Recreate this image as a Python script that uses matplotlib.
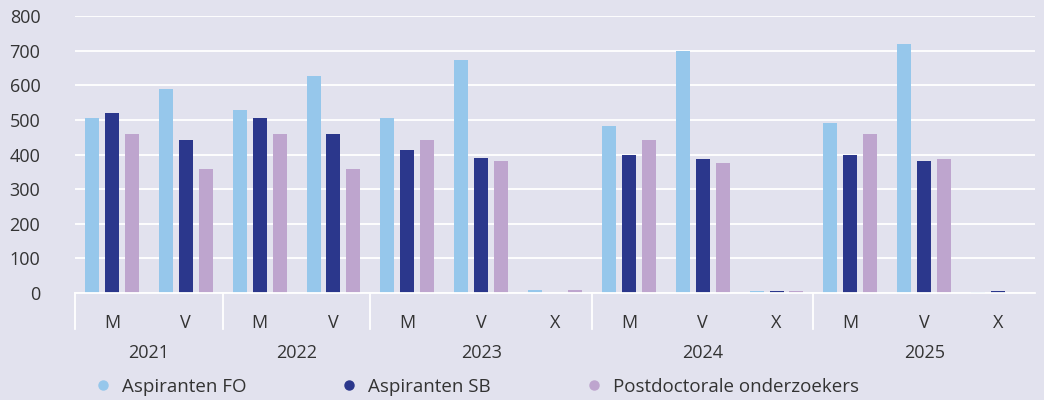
import matplotlib
matplotlib.use("Agg")
import matplotlib.pyplot as plt
from matplotlib.lines import Line2D
import numpy as np

years = ["2021", "2022", "2023", "2024", "2025"]
subcats = [["M", "V"], ["M", "V"], ["M", "V", "X"], ["M", "V", "X"], ["M", "V", "X"]]
series_names = ["Aspiranten FO", "Aspiranten SB", "Postdoctorale onderzoekers"]
aspiranten_fo = [505, 590, 528, 627, 505, 673, 10, 482, 699, 5, 491, 720, 3]
aspiranten_sb = [520, 442, 505, 460, 413, 390, 0, 399, 387, 5, 399, 381, 6]
postdocs = [460, 358, 460, 358, 442, 381, 10, 442, 375, 5, 459, 387, 1]
yticks = [0, 100, 200, 300, 400, 500, 600, 700, 800]

colors = ["#96C7EB", "#2B378C", "#BEA5CE"]
bg = "#E2E2EE"
txt = "#333333"

plt.rcParams["font.family"] = ["Open Sans", "DejaVu Sans"]

fig = plt.figure(figsize=(10.44, 4.0), dpi=100, facecolor=bg)
ax = fig.add_axes([75 / 1044, 107 / 400, 960 / 1044, 277 / 400], facecolor=bg)

labels = [s for grp in subcats for s in grp]
x = np.arange(len(labels))
width = 0.19
offset = 0.27
for i, (vals, c, name) in enumerate(zip([aspiranten_fo, aspiranten_sb, postdocs], colors, series_names)):
    ax.bar(x + (i - 1) * offset, vals, width=width, color=c, label=name, zorder=3)

ax.set_xlim(-0.5, len(labels) - 0.5)
ax.set_ylim(0, 800)
ax.set_yticks(yticks)
ax.yaxis.grid(True, color="white", linewidth=1.3, zorder=1)
ax.set_xticks(x)
ax.set_xticklabels(labels)
ax.tick_params(axis="x", length=0, pad=15, labelsize=13, labelcolor=txt)
ax.tick_params(axis="y", length=0, pad=25, labelsize=13, labelcolor=txt)
for lab in ax.get_yticklabels():
    lab.set_ha("right")
for sp in ["top", "right", "left"]:
    ax.spines[sp].set_visible(False)
ax.spines["bottom"].set_color("white")
ax.spines["bottom"].set_linewidth(1.3)
ax.spines["bottom"].set_zorder(4)

# group separators and year labels
trans = ax.get_xaxis_transform()
start = 0
for yr, grp in zip(years, subcats):
    n = len(grp)
    ax.plot([start - 0.5, start - 0.5], [0, -0.13], transform=trans, color="white",
            linewidth=1.3, clip_on=False)
    center = start + (n - 1) / 2
    ax.text(center, -0.218, yr, transform=trans, ha="center", va="center",
            fontsize=13, color=txt)
    start += n

handles = [Line2D([0], [0], marker="o", linestyle="", markersize=6.5,
                  markerfacecolor=c, markeredgecolor=c) for c in colors]
fig.legend(handles, series_names, loc="center left", bbox_to_anchor=(93.6 / 1044, 13 / 400),
           ncol=3, frameon=False, fontsize=13.5, labelcolor=txt, handletextpad=0.5,
           columnspacing=5.0, handlelength=1.0, borderaxespad=0, borderpad=0)

fig.savefig("out.png", dpi=100, facecolor=bg)
